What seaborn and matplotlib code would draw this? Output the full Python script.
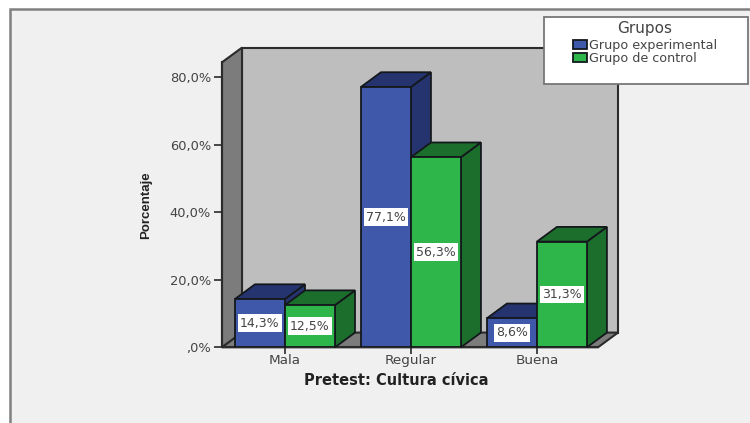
import pandas as pd
import matplotlib.pyplot as plt
from matplotlib.patches import Polygon, Rectangle
import seaborn as sns

# datos
categorias = ['Mala', 'Regular', 'Buena']
experimental = [14.3, 77.1, 8.6]
control = [12.5, 56.3, 31.3]
grupos = ['Grupo experimental', 'Grupo de control']
ticks_y = [0, 20, 40, 60, 80]
ticks_y_txt = [',0%', '20,0%', '40,0%', '60,0%', '80,0%']

AZUL, AZUL_OSC = '#3f58aa', '#25346f'
VERDE, VERDE_OSC = '#2fb64a', '#1b6e2c'
BORDE = '#14181c'
TEXTO = '#444444'
W, H = 750, 423

df = pd.DataFrame({
    'cat': categorias * 2,
    'valor': experimental + control,
    'grupo': [grupos[0]] * 3 + [grupos[1]] * 3,
})

sns.set_theme(style='white')
plt.rcParams['font.family'] = ['DejaVu Sans']

fig = plt.figure(figsize=(W / 100, H / 100), dpi=100, facecolor='white')
fig.patches.append(Rectangle((10 / W, -0.02), 1, 1.02 - 9 / H, transform=fig.transFigure,
                             facecolor='#f0f0f0', edgecolor='#808080', linewidth=1.8, zorder=-1))

ax = fig.add_axes([222 / W, 1 - 347.3 / H, 376 / W, 285 / H])
ax.patch.set_visible(False)

sns.barplot(data=df, x='cat', y='valor', hue='grupo', order=categorias, hue_order=grupos,
            palette=[AZUL, VERDE], saturation=1, width=0.794, gap=0,
            edgecolor=BORDE, linewidth=1.3, ax=ax)
ax.set_xlim(-0.5, 2.485)
ax.set_ylim(0, 84.4)

# profundidad 3D en unidades de datos
dx = 2.985 * 20 / 376
dy = 84.4 * 14.7 / 285

# paredes
x0, x1 = ax.get_xlim()
y0, y1 = ax.get_ylim()
paredes = [
    ([(x0 + dx, y0 + dy), (x1 + dx, y0 + dy), (x1 + dx, y1 + dy), (x0 + dx, y1 + dy)], '#bebebe'),
    ([(x0, y0), (x0 + dx, y0 + dy), (x0 + dx, y1 + dy), (x0, y1)], '#7c7c7c'),
    ([(x0, y0), (x1, y0), (x1 + dx, y0 + dy), (x0 + dx, y0 + dy)], '#7c7c7c'),
]
for pts, color in paredes:
    ax.add_patch(Polygon(pts, closed=True, facecolor=color, edgecolor='#2b2b2b',
                         linewidth=1.5, clip_on=False, zorder=0.5))

# caras laterales, superiores y etiquetas
oscuros = [AZUL_OSC, VERDE_OSC]
z = 2.0
for cont, oscuro in zip(ax.containers, oscuros):
    for bar in cont:
        xa, w, h = bar.get_x(), bar.get_width(), bar.get_height()
        xb = xa + w
        ax.add_patch(Polygon([(xb, 0), (xb + dx, dy), (xb + dx, h + dy), (xb, h)], closed=True,
                             facecolor=oscuro, edgecolor=BORDE, linewidth=1.3,
                             clip_on=False, zorder=z))
        ax.add_patch(Polygon([(xa, h), (xb, h), (xb + dx, h + dy), (xa + dx, h + dy)], closed=True,
                             facecolor=oscuro, edgecolor=BORDE, linewidth=1.3,
                             clip_on=False, zorder=z))
        bar.set_zorder(z + 0.01)
        ax.text(xa + w / 2, h / 2, f'{h:.1f}%'.replace('.', ','), ha='center', va='center',
                fontsize=9, color=TEXTO, zorder=6,
                bbox=dict(boxstyle='square,pad=0.18', facecolor='white', edgecolor='none'))
        z += 0.1

# ejes
ax.set_yticks(ticks_y, ticks_y_txt)
ax.tick_params(axis='both', color='#2b2b2b', labelcolor=TEXTO, left=True, bottom=True, width=1.2)
ax.tick_params(axis='x', length=5, labelsize=9.7, pad=-0.5)
ax.tick_params(axis='y', length=6, labelsize=9.4, pad=2)
ax.set_xlabel('Pretest: Cultura cívica', fontsize=10.5, fontweight='bold', color='#222222')
ax.xaxis.set_label_coords((396 - 222) / 376, (347.3 - 373) / 285)
ax.set_ylabel('')
fig.text(146.5 / W, 1 - 205.5 / H, 'Porcentaje', rotation=90, ha='center', va='center',
         fontsize=9.5, fontweight='bold', color='#222222', family='Liberation Sans')
sns.despine(ax=ax, top=True, right=True)
for lado in ['left', 'bottom']:
    ax.spines[lado].set_color('#2b2b2b')
    ax.spines[lado].set_linewidth(1.5)
    ax.spines[lado].set_zorder(1)

# leyenda
ax.add_patch(Rectangle((544 / W, 1 - 84 / H), 203.5 / W, 67.3 / H, transform=fig.transFigure,
                       facecolor='white', edgecolor='#777777', linewidth=1.3,
                       clip_on=False, zorder=9))
sns.move_legend(ax, 'upper center', bbox_to_anchor=(645 / W, 1 - 21 / H),
                bbox_transform=fig.transFigure, title='Grupos', frameon=False,
                fontsize=9.2, title_fontsize=11, labelspacing=0, handlelength=1.1,
                handleheight=0.7, handletextpad=0.2, borderpad=0, borderaxespad=0)
leg = ax.get_legend()
leg.set_zorder(10)
leg._legend_box.sep = 2
leg.get_title().set_color(TEXTO)
for t in leg.get_texts():
    t.set_color(TEXTO)

fig.savefig('out.png', dpi=100)
